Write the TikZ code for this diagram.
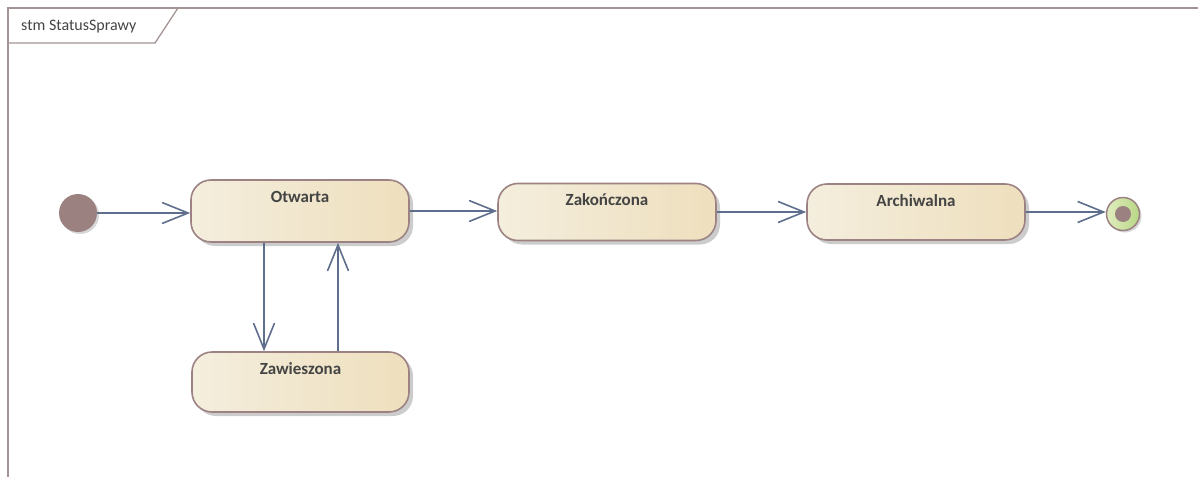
\documentclass[tikz,border=0pt]{standalone}
\usepackage{fontspec}
\setmainfont{Carlito}
\usetikzlibrary{arrows.meta,shadows,calc}

\definecolor{frameline}{HTML}{A59494}
\definecolor{stateborder}{HTML}{9C8283}
\definecolor{stateleft}{HTML}{F4EEDE}
\definecolor{stateright}{HTML}{EEDFBD}
\definecolor{pseudofill}{HTML}{9B8281}
\definecolor{finalleft}{HTML}{E0EDBF}
\definecolor{finalright}{HTML}{B8D785}
\definecolor{flowline}{HTML}{5E6E8C}
\definecolor{labeltext}{HTML}{444444}

\tikzset{
  softshadow/.style={drop shadow={shadow xshift=4pt, shadow yshift=-4pt, fill=black!22, opacity=0.9}},
  statebox/.style={draw=stateborder, line width=1.6pt, rounded corners=20pt,
    left color=stateleft, right color=stateright, softshadow,
    minimum width=218pt, inner sep=0pt},
  statename/.style={anchor=base, font=\fontsize{17}{20}\selectfont\bfseries, text=labeltext, inner sep=0pt},
  initialdot/.style={circle, fill=pseudofill, minimum size=38pt, inner sep=0pt,
    drop shadow={shadow xshift=2pt, shadow yshift=-2pt, fill=black!18, opacity=0.9}},
  finalring/.style={circle, draw=stateborder, line width=1.5pt, left color=finalleft, right color=finalright,
    minimum size=33pt, inner sep=0pt,
    drop shadow={shadow xshift=2pt, shadow yshift=-2pt, fill=black!18, opacity=0.9}},
  finaldot/.style={circle, fill=pseudofill, minimum size=16pt, inner sep=0pt},
  transition/.style={draw=flowline, line width=1.6pt,
    -{Straight Barb[length=26pt, width=21pt, line width=1.6pt]}},
  frameedge/.style={draw=frameline, line width=2.2pt},
  tabedge/.style={draw=frameline, line width=1.3pt},
}

\begin{document}
\begin{tikzpicture}[x=1pt, y=-1pt]
  \useasboundingbox (0,0) rectangle (1198,476);

  % diagram frame, running off to the right and bottom
  \coordinate (frame-tl) at (8,8);
  \coordinate (frame-tr) at (1200,8);
  \coordinate (frame-bl) at (8,478);
  \draw[frameedge] (frame-tr) -- (frame-tl) -- (frame-bl);

  % name tab
  \coordinate (tab-a) at (178,8);
  \coordinate (tab-b) at (155,43);
  \coordinate (tab-c) at (8,43);
  \draw[tabedge] (tab-a) -- (tab-b) -- (tab-c);
  \node[anchor=base west, inner sep=0pt, text=labeltext, font=\fontsize{16}{19}\selectfont] (frame-name) at (21,31) {stm StatusSprawy};

  % states
  \node[statebox, minimum height=62pt] (otwarta) at (300,211) {};
  \node[statebox, minimum height=57pt] (zakonczona) at (607,212) {};
  \node[statebox, minimum height=56pt] (archiwalna) at (916,212) {};
  \node[statebox, minimum height=60pt, minimum width=217pt] (zawieszona) at (300.5,382) {};

  \node[statename] (otwarta-name) at ([yshift=-23pt]otwarta.north) {Otwarta};
  \node[statename] (zakonczona-name) at ([yshift=-23pt]zakonczona.north) {Zakończona};
  \node[statename] (archiwalna-name) at ([yshift=-23pt]archiwalna.north) {Archiwalna};
  \node[statename] (zawieszona-name) at ([yshift=-23pt]zawieszona.north) {Zawieszona};

  % pseudostates
  \node[initialdot] (start) at (78,213) {};
  \node[finalring] (finish) at (1123,214) {};
  \node[finaldot] (finish-core) at (finish.center) {};

  % transitions
  \draw[transition] (start.east) -- (start.east -| otwarta.west);
  \draw[transition] (otwarta.east) -- (otwarta.east -| zakonczona.west);
  \draw[transition] (zakonczona.east) -- (zakonczona.east -| archiwalna.west);
  \draw[transition] (archiwalna.east) -- (archiwalna.east -| finish.west);
  \draw[transition] ([xshift=-36pt]otwarta.south) -- ([xshift=-36pt]otwarta.south |- zawieszona.north);
  \draw[transition] ([xshift=38pt]otwarta.south |- zawieszona.north) -- ([xshift=38pt]otwarta.south);
\end{tikzpicture}
\end{document}
